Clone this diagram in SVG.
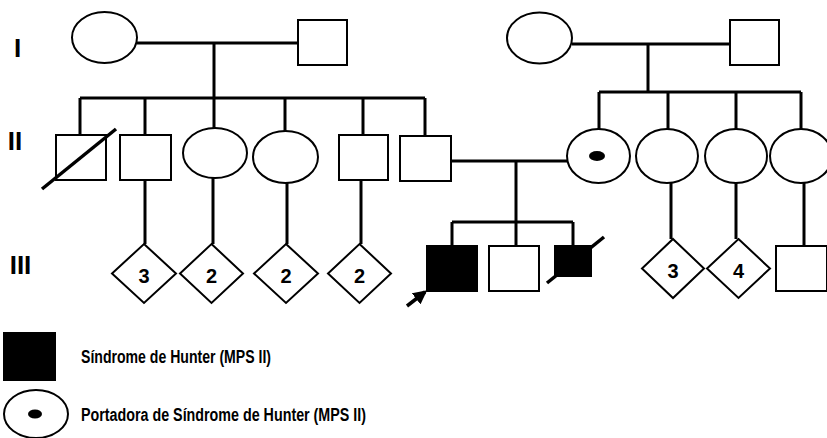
<svg xmlns="http://www.w3.org/2000/svg" width="827" height="438" viewBox="0 0 827 438">
<style>
.s{fill:#fff;stroke:#000;stroke-width:2}
.a{fill:#000;stroke:#000;stroke-width:2}
.l{fill:none;stroke:#000;stroke-width:3}
.d{stroke:#000;stroke-width:3.5;fill:none}
.g{font-family:"Liberation Sans",Arial,sans-serif;font-weight:bold;font-size:26px;text-anchor:middle}
.n{font-family:"Liberation Sans",Arial,sans-serif;font-weight:bold;font-size:20px;text-anchor:middle}
.t{font-family:"Liberation Sans",Arial,sans-serif;font-weight:bold;font-size:18px}
</style>
<defs>
<marker id="arr" viewBox="0 0 10 10" refX="8" refY="5" markerWidth="4" markerHeight="4" orient="auto" markerUnits="strokeWidth">
<path d="M0,0 L10,5 L0,10 z" fill="#000"/>
</marker>
</defs>
<rect width="827" height="438" fill="#fff"/>

<g id="labels">
<text class="g" x="17.5" y="57">I</text>
<text class="g" x="15" y="150">II</text>
<text class="g" x="20.5" y="274">III</text>
</g>

<g id="connectors">
<line class="l" x1="137" y1="43" x2="298" y2="43"/>
<line class="l" x1="214" y1="43" x2="214" y2="98"/>
<line class="l" x1="80" y1="98" x2="425" y2="98"/>
<line class="l" x1="80" y1="98" x2="80" y2="135"/>
<line class="l" x1="145" y1="98" x2="145" y2="135"/>
<line class="l" x1="214" y1="98" x2="214" y2="128"/>
<line class="l" x1="285" y1="98" x2="285" y2="131"/>
<line class="l" x1="363" y1="98" x2="363" y2="135"/>
<line class="l" x1="425" y1="98" x2="425" y2="136"/>
<line class="l" x1="572" y1="44" x2="730" y2="44"/>
<line class="l" x1="648" y1="44" x2="648" y2="92"/>
<line class="l" x1="599" y1="92" x2="801" y2="92"/>
<line class="l" x1="599" y1="92" x2="599" y2="129"/>
<line class="l" x1="668" y1="92" x2="668" y2="129"/>
<line class="l" x1="736" y1="92" x2="736" y2="129"/>
<line class="l" x1="801" y1="92" x2="801" y2="129"/>
<line class="l" x1="451" y1="161" x2="567" y2="161"/>
<line class="l" x1="516" y1="161" x2="516" y2="246"/>
<line class="l" x1="452" y1="222" x2="573" y2="222"/>
<line class="l" x1="452" y1="222" x2="452" y2="246"/>
<line class="l" x1="573" y1="222" x2="573" y2="246"/>
<line class="l" x1="145" y1="180" x2="145" y2="244"/>
<line class="l" x1="213" y1="178" x2="213" y2="244"/>
<line class="l" x1="287" y1="183" x2="287" y2="244"/>
<line class="l" x1="361" y1="180" x2="361" y2="244"/>
<line class="l" x1="671" y1="183" x2="671" y2="239"/>
<line class="l" x1="736" y1="183" x2="736" y2="239"/>
<line class="l" x1="804" y1="183" x2="804" y2="246"/>
</g>

<g id="I-1"><ellipse class="s" cx="104.5" cy="37.5" rx="32.5" ry="25.5"/></g>
<g id="I-2"><rect class="s" x="298" y="20" width="49" height="45"/></g>
<g id="I-3"><ellipse class="s" cx="539.5" cy="38" rx="32.5" ry="25.5"/></g>
<g id="I-4"><rect class="s" x="730" y="20" width="49" height="45"/></g>

<g id="II-1"><rect class="s" x="56" y="135" width="50" height="45"/><line class="d" x1="42" y1="189" x2="116" y2="129"/></g>
<g id="II-2"><rect class="s" x="120" y="135" width="51" height="45"/></g>
<g id="II-3"><ellipse class="s" cx="215" cy="153" rx="32" ry="25"/></g>
<g id="II-4"><ellipse class="s" cx="285.5" cy="157" rx="32.5" ry="26"/></g>
<g id="II-5"><rect class="s" x="339" y="135" width="49" height="45"/></g>
<g id="II-6"><rect class="s" x="400" y="136" width="51" height="45"/></g>
<g id="II-7"><ellipse class="s" cx="598.5" cy="156" rx="31.5" ry="27"/><ellipse cx="597" cy="156" rx="8" ry="5" fill="#000"/></g>
<g id="II-8"><ellipse class="s" cx="667" cy="156" rx="31" ry="27"/></g>
<g id="II-9"><ellipse class="s" cx="736" cy="156" rx="31" ry="27"/></g>
<g id="II-10"><ellipse class="s" cx="801" cy="156" rx="31" ry="27"/></g>

<g id="III-1"><polygon class="s" points="144,244 176,273.5 144,303 112,273.5"/><text class="n" x="144" y="283">3</text></g>
<g id="III-2"><polygon class="s" points="211.5,244 243,273.5 211.5,303 180,273.5"/><text class="n" x="211.5" y="283">2</text></g>
<g id="III-3"><polygon class="s" points="286,244 318,273.5 286,303 254,273.5"/><text class="n" x="286" y="283">2</text></g>
<g id="III-4"><polygon class="s" points="359.5,244 391,273.5 359.5,303 328,273.5"/><text class="n" x="359.5" y="283">2</text></g>
<g id="III-5"><rect class="a" x="427" y="246" width="50" height="45"/><line class="d" x1="407" y1="306" x2="425" y2="292" marker-end="url(#arr)"/></g>
<g id="III-6"><rect class="s" x="489" y="246" width="50" height="45"/></g>
<g id="III-7"><rect class="a" x="555" y="246" width="36" height="30"/><line class="d" x1="547" y1="283" x2="604" y2="237"/></g>
<g id="III-8"><polygon class="s" points="673,239 704,268.5 673,298 642,268.5"/><text class="n" x="673" y="278">3</text></g>
<g id="III-9"><polygon class="s" points="738.5,239 770,268.5 738.5,298 707,268.5"/><text class="n" x="738.5" y="278">4</text></g>
<g id="III-10"><rect class="s" x="776" y="246" width="51" height="45"/></g>

<g id="legend">
<rect class="a" x="4" y="333" width="51" height="47"/>
<text class="t" x="81" y="363" textLength="190" lengthAdjust="spacingAndGlyphs">Síndrome de Hunter (MPS II)</text>
<ellipse class="s" cx="36" cy="414" rx="32" ry="24"/>
<ellipse cx="35" cy="414" rx="7" ry="4.5" fill="#000"/>
<text class="t" x="81" y="421" textLength="285" lengthAdjust="spacingAndGlyphs">Portadora de Síndrome de Hunter (MPS II)</text>
</g>
</svg>
